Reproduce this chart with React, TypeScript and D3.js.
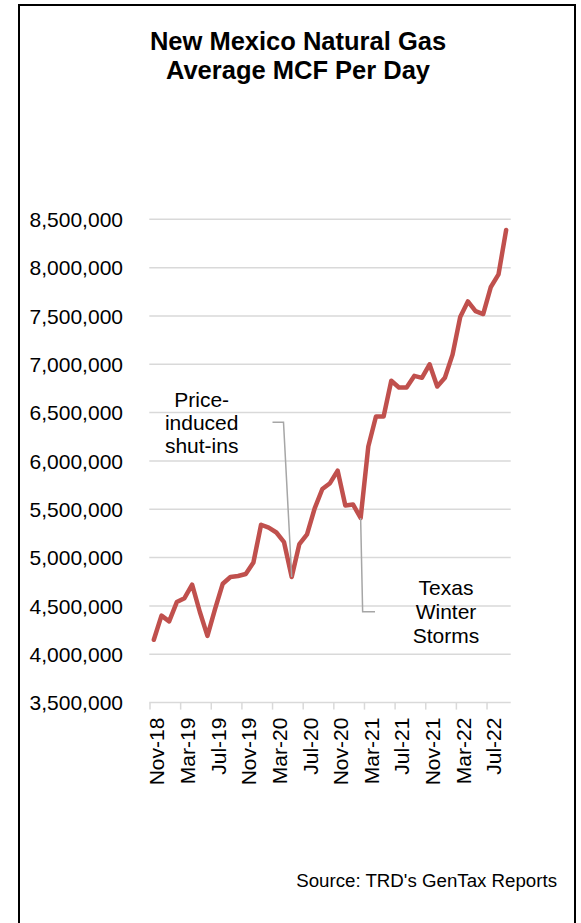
import React from "react";
import * as d3 from "d3";

const months: string[] = [
  "Nov-18","Dec-18","Jan-19","Feb-19","Mar-19","Apr-19","May-19","Jun-19","Jul-19","Aug-19","Sep-19","Oct-19",
  "Nov-19","Dec-19","Jan-20","Feb-20","Mar-20","Apr-20","May-20","Jun-20","Jul-20","Aug-20","Sep-20","Oct-20",
  "Nov-20","Dec-20","Jan-21","Feb-21","Mar-21","Apr-21","May-21","Jun-21","Jul-21","Aug-21","Sep-21","Oct-21",
  "Nov-21","Dec-21","Jan-22","Feb-22","Mar-22","Apr-22","May-22","Jun-22","Jul-22","Aug-22","Sep-22",
];

const mcfPerDay: number[] = [
  4150000, 4400000, 4340000, 4540000, 4580000, 4720000, 4440000, 4190000, 4470000, 4730000, 4800000, 4810000,
  4830000, 4950000, 5340000, 5310000, 5260000, 5160000, 4800000, 5140000, 5240000, 5510000, 5710000, 5770000,
  5900000, 5540000, 5550000, 5410000, 6150000, 6460000, 6460000, 6830000, 6760000, 6760000, 6880000, 6860000,
  7000000, 6770000, 6860000, 7100000, 7490000, 7650000, 7550000, 7520000, 7800000, 7930000, 8390000,
];

const yTicks: number[] = [3500000, 4000000, 4500000, 5000000, 5500000, 6000000, 6500000, 7000000, 7500000, 8000000, 8500000];
const xTickLabels: string[] = ["Nov-18","Mar-19","Jul-19","Nov-19","Mar-20","Jul-20","Nov-20","Mar-21","Jul-21","Nov-21","Mar-22","Jul-22"];

const titleLines: string[] = ["New Mexico Natural Gas", "Average MCF Per Day"];
const priceNote: string[] = ["Price-", "induced", "shut-ins"];
const texasNote: string[] = ["Texas", "Winter", "Storms"];
const priceNoteMonth = "May-20";
const texasNoteMonth = "Feb-21";
const sourceText = "Source: TRD's GenTax Reports";

const FONT = "'Liberation Sans', Arial, sans-serif";

export default function App() {
  const W = 581, H = 923;
  const x = d3.scaleBand<string>().domain(months).range([150, 510]).padding(0);
  const y = d3.scaleLinear().domain([3500000, 8500000]).range([702.6, 219.3]);
  const cx = (m: string) => (x(m) as number) + x.bandwidth() / 2;
  const line = d3.line<number>().x((_, i) => cx(months[i])).y((d) => y(d));
  const fmt = d3.format(",");

  const pIdx = months.indexOf(priceNoteMonth);
  const tIdx = months.indexOf(texasNoteMonth);
  const pX = cx(priceNoteMonth), pY = y(mcfPerDay[pIdx]);
  const tX = cx(texasNoteMonth), tY = y(mcfPerDay[tIdx]);

  return (
    <svg width={W} height={H} style={{ position: "absolute", left: 0, top: 0, background: "#fff" }} fontFamily={FONT}>
      <rect x={0} y={0} width={W} height={H} fill="#fff" />
      <rect x={19} y={5} width={556} height={940} fill="none" stroke="#000" strokeWidth={2} />
      {titleLines.map((t, i) => (
        <text key={t} x={298} y={50 + i * 29} textAnchor="middle" fontWeight="bold" fontSize={25.5} fill="#000">{t}</text>
      ))}
      {yTicks.map((v) => (
        <g key={v}>
          {v > 3500000 && <line x1={149.3} x2={510.7} y1={y(v)} y2={y(v)} stroke="#d9d9d9" strokeWidth={1.5} />}
          <text x={123} y={y(v)} dy="0.36em" textAnchor="end" fontSize={21} fill="#000">{fmt(v)}</text>
        </g>
      ))}
      <line x1={149.3} x2={510.7} y1={y(3500000)} y2={y(3500000)} stroke="#d9d9d9" strokeWidth={1.5} />
      {xTickLabels.map((m) => (
        <g key={m}>
          <line x1={x(m) as number} x2={x(m) as number} y1={y(3500000)} y2={y(3500000) + 7} stroke="#d9d9d9" strokeWidth={1.5} />
          <text transform={`translate(${cx(m) + 3},${y(3500000) + 15}) rotate(-90)`} dy="0.36em" textAnchor="end" fontSize={21} fill="#000">{m}</text>
        </g>
      ))}
      <path d={line(mcfPerDay) as string} fill="none" stroke="#c0504d" strokeWidth={4.5} strokeLinejoin="round" strokeLinecap="round" />
      <polyline points={`272.5,422.3 283.5,422.3 ${pX},${pY}`} fill="none" stroke="#a6a6a6" strokeWidth={1.5} />
      <polyline points={`${tX},${tY} ${tX + 2},611.7 375,611.7`} fill="none" stroke="#a6a6a6" strokeWidth={1.5} />
      {priceNote.map((t, i) => (
        <text key={t} x={201.7} y={406.7 + i * 23.3} textAnchor="middle" fontSize={21} fill="#000">{t}</text>
      ))}
      {texasNote.map((t, i) => (
        <text key={t} x={446} y={595 + i * 24.2} textAnchor="middle" fontSize={21} fill="#000">{t}</text>
      ))}
      <text x={557} y={887} textAnchor="end" fontSize={18.7} fill="#000">{sourceText}</text>
    </svg>
  );
}
